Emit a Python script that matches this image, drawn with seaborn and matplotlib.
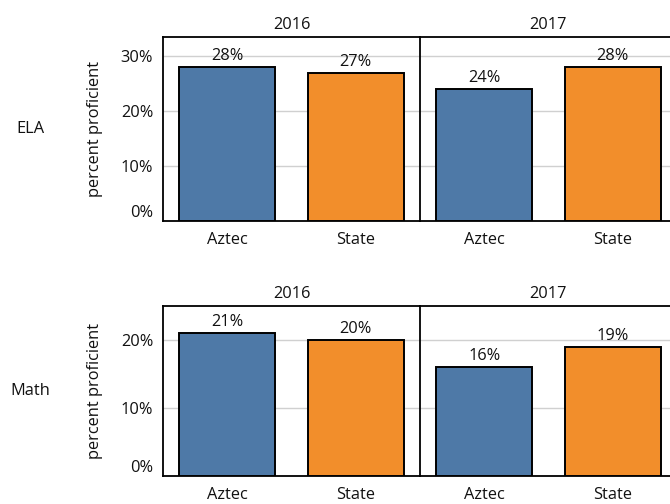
import pandas as pd
import seaborn as sns
import matplotlib.pyplot as plt
from matplotlib.ticker import FixedLocator

# values (percent proficient)
subjects = ["ELA", "Math"]
years = ["2016", "2017"]
groups = ["Aztec", "State"]
ela_2016 = [28, 27]
ela_2017 = [24, 28]
math_2016 = [21, 20]
math_2017 = [16, 19]
y_max = {"ELA": 33.5, "Math": 25}
y_ticks = {"ELA": [0, 10, 20, 30], "Math": [0, 10, 20]}

rows = []
for subj, yr, vals in [("ELA", "2016", ela_2016), ("ELA", "2017", ela_2017),
                       ("Math", "2016", math_2016), ("Math", "2017", math_2017)]:
    for g, v in zip(groups, vals):
        rows.append({"subject": subj, "year": yr, "group": g, "value": v})
df = pd.DataFrame(rows)

sns.set_style("white")
plt.rcParams["font.family"] = ["Open Sans", "DejaVu Sans"]
fs = 11.8
plt.rcParams["font.size"] = fs
plt.rcParams["text.color"] = "#111111"
plt.rcParams["axes.labelcolor"] = "#111111"
plt.rcParams["xtick.labelcolor"] = "#111111"
plt.rcParams["ytick.labelcolor"] = "#111111"

palette = {"Aztec": "#4e79a7", "State": "#f28e2b"}
W, H = 670, 504
fig = plt.figure(figsize=(W / 100, H / 100), dpi=100)

# pane boxes in pixels: (top, bottom)
row_px = {"ELA": (37, 221), "Math": (306, 476)}
col_px = {"2016": (163, 420), "2017": (420, 677)}

for subj in subjects:
    top, bot = row_px[subj]
    for yr in years:
        l, r = col_px[yr]
        ax = fig.add_axes([l / W, 1 - bot / H, (r - l) / W, (bot - top) / H])
        sub = df[(df["subject"] == subj) & (df["year"] == yr)]
        sns.barplot(data=sub, x="group", y="value", hue="group", order=groups,
                    palette=palette, saturation=1, edgecolor="black", linewidth=1.4,
                    width=0.75, legend=False, ax=ax, zorder=3)
        for c in ax.containers:
            ax.bar_label(c, fmt="%d%%", padding=2, fontsize=fs, color="#111111")
        ax.set_ylim(0, y_max[subj])
        ax.set_xlim(-0.5, 1.5)
        ax.set_yticks(y_ticks[subj])
        ax.grid(axis="y", color="#d0d0d0", linewidth=1, zorder=0)
        ax.set_axisbelow(True)
        ax.set_xlabel("")
        ax.set_title(yr, pad=6, fontsize=fs)
        for s in ["top", "left", "bottom"]:
            ax.spines[s].set_visible(True)
            ax.spines[s].set_color("black")
            ax.spines[s].set_linewidth(1.3)
        ax.spines["right"].set_visible(False)
        ax.xaxis.set_minor_locator(FixedLocator([-0.5, 0.5]))
        ax.tick_params(axis="x", which="major", length=0, pad=8, labelsize=fs)
        ax.tick_params(axis="x", which="minor", length=6, color="#e0e0e0", width=1)
        if yr == "2016":
            ax.set_yticklabels([f"{t}%" for t in y_ticks[subj]])
            ax.tick_params(axis="y", length=5, color="#d0d0d0", pad=2, labelsize=fs)
            ax.get_yticklabels()[0].set_va("bottom")
            ax.set_ylabel("percent proficient", fontsize=fs)
            ax.yaxis.set_label_coords(-0.235, 0.5)
        else:
            ax.set_yticklabels([])
            ax.tick_params(axis="y", length=0)
            ax.set_ylabel("")
    fig.text(30 / W, 1 - (top + bot) / 2 / H, subj, ha="center", va="center", fontsize=fs)

fig.savefig("out.png", dpi=100)
